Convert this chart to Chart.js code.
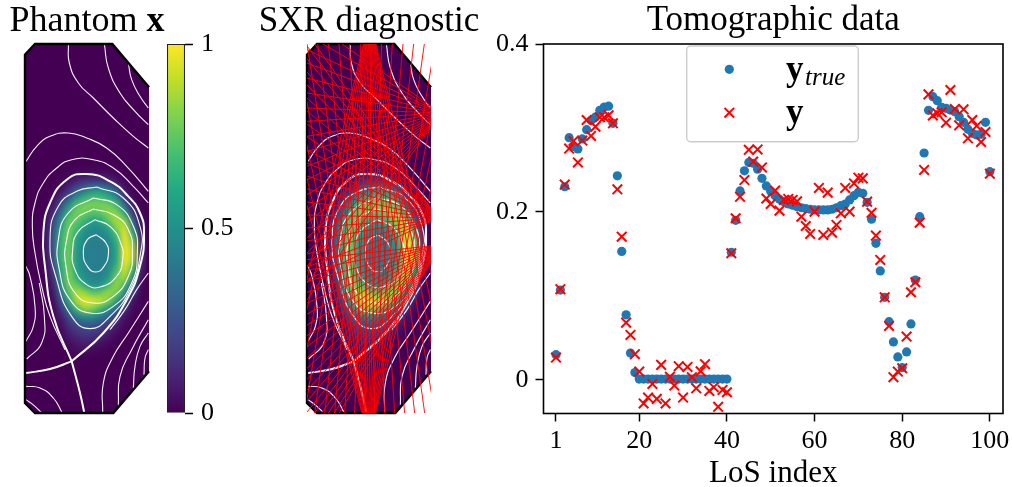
<!DOCTYPE html>
<html><head><meta charset="utf-8">
<script src="https://cdn.jsdelivr.net/npm/chart.js@4"></script>
<style>
html,body{margin:0;padding:0;background:#fff;width:1012px;height:487px;overflow:hidden}
canvas{position:absolute}
</style></head><body>
<canvas id="phantom" style="left:0;top:0" width="174" height="487"></canvas>
<canvas id="cbar" style="left:160px;top:30px" width="85" height="397"></canvas>
<canvas id="sxr" style="left:255px;top:0" width="228" height="487"></canvas>
<canvas id="tomo" style="left:490px;top:0" width="522" height="487"></canvas>
<script>
/* ---------- Tomographic data ---------- */
const losIndex=[1,2,3,4,5,6,7,8,9,10,11,12,13,14,15,16,17,18,19,20,21,22,23,24,25,26,27,28,29,30,31,32,33,34,35,36,37,38,39,40,41,42,43,44,45,46,47,48,49,50,51,52,53,54,55,56,57,58,59,60,61,62,63,64,65,66,67,68,69,70,71,72,73,74,75,76,77,78,79,80,81,82,83,84,85,86,87,88,89,90,91,92,93,94,95,96,97,98,99,100];
const yTrue=[0.03,0.107,0.23,0.2885,0.278,0.275,0.287,0.298,0.309,0.313,0.321,0.325,0.326,0.3055,0.243,0.153,0.0775,0.032,0.0087,0.001,0.001,0.001,0.001,0.001,0.001,0.001,0.001,0.001,0.001,0.001,0.001,0.001,0.001,0.001,0.001,0.001,0.001,0.001,0.001,0.001,0.152,0.19,0.225,0.249,0.259,0.258,0.251,0.24,0.231,0.2246,0.2194,0.215,0.2123,0.2095,0.208,0.2063,0.205,0.204,0.2032,0.2024,0.2024,0.2024,0.2024,0.2032,0.205,0.2075,0.2095,0.2143,0.2194,0.2234,0.2222,0.2115,0.1913,0.1627,0.1298,0.0984,0.0694,0.0452,0.0274,0.0147,0.0333,0.0667,0.119,0.1944,0.2702,0.321,0.3373,0.3325,0.3246,0.3234,0.3214,0.3194,0.3135,0.3067,0.2984,0.2936,0.2917,0.2925,0.3067,0.248];
const yNoisy=[0.0266,0.108,0.2326,0.2755,0.2845,0.259,0.285,0.3095,0.2905,0.3016,0.3127,0.3127,0.315,0.3055,0.227,0.1706,0.0682,0.0536,0.0306,0.0099,-0.028,-0.021,-0.0048,-0.0226,0.0179,-0.028,0.0036,-0.0067,0.0163,-0.021,0.0155,0.0032,-0.01,0.0103,0.0187,-0.0131,-0.0087,-0.032,-0.0119,-0.0147,0.1508,0.1925,0.218,0.238,0.274,0.26,0.2745,0.253,0.216,0.2095,0.2254,0.2016,0.2143,0.2155,0.2143,0.2127,0.1944,0.1833,0.1738,0.2004,0.2286,0.1726,0.223,0.1754,0.1845,0.1984,0.2286,0.2004,0.234,0.2408,0.24,0.2123,0.199,0.1718,0.1429,0.0984,0.0643,0.0032,0.0099,0.0139,0.0516,0.1044,0.1163,0.1873,0.25,0.34,0.315,0.3175,0.3187,0.3063,0.3452,0.3226,0.3032,0.3222,0.2877,0.3095,0.3024,0.2833,0.2952,0.2456];
const xTickValues=[1,20,40,60,80,100];
const yTickValues=[0,0.2,0.4];
const cbarTickValues=[0,0.5,1];
const seriesNames=["y_true","y"];

/* ---------- Emission map, read on a coarse grid (value 0..1) ---------- */
const heatX=[135,159,183,207,231,255,279,303,327,351,375,399,423];
const heatY=[520,544,568,592,616,640,664,688,712,736,760,784,808,832,856,880,904,928,952,976,1000,1024,1048];
const heatRows=[
[0,0,0,.01,.02,.03,.03,.03,.02,.01,0,0,0],
[0,0,.01,.04,.1,.14,.15,.15,.12,.05,.01,0,0],
[0,0,.03,.12,.25,.35,.45,.47,.4,.24,.05,0,0],
[0,.02,.12,.26,.48,.62,.68,.68,.6,.45,.14,.01,0],
[0,.05,.24,.48,.72,.8,.8,.8,.78,.66,.34,.05,0],
[.01,.12,.36,.66,.8,.78,.72,.75,.84,.82,.58,.16,.01],
[.02,.18,.5,.76,.76,.65,.55,.6,.74,.9,.82,.34,.03],
[.03,.24,.58,.8,.67,.52,.47,.47,.58,.8,.96,.52,.06],
[.03,.26,.64,.8,.58,.47,.44,.44,.48,.68,1,.7,.08],
[.03,.26,.66,.78,.55,.45,.42,.42,.45,.6,1,.84,.12],
[.03,.24,.66,.78,.52,.44,.42,.42,.44,.58,1,.88,.12],
[.02,.22,.66,.78,.52,.44,.42,.42,.44,.6,1,.84,.1],
[.01,.17,.6,.8,.55,.45,.43,.43,.47,.68,.96,.7,.08],
[0,.12,.55,.82,.6,.48,.44,.44,.52,.78,.88,.5,.04],
[0,.08,.48,.8,.76,.58,.48,.5,.68,.86,.68,.32,.02],
[0,.05,.36,.72,.9,.84,.72,.76,.86,.78,.46,.16,0],
[0,.02,.24,.58,.88,.98,.96,.92,.8,.55,.27,.05,0],
[0,0,.14,.4,.68,.84,.8,.66,.5,.33,.13,.02,0],
[0,0,.07,.23,.4,.48,.47,.39,.3,.16,.05,0,0],
[0,0,.03,.14,.22,.28,.27,.22,.15,.08,.02,0,0],
[0,0,.01,.09,.14,.17,.17,.13,.08,.03,0,0,0],
[0,0,0,.04,.08,.1,.09,.06,.03,0,0,0,0],
[0,0,0,.02,.04,.05,.03,.01,0,0,0,0,0]];
const viridisStops=["#440154","#482475","#414487","#355f8d","#2a788e","#21918c","#22a884","#44bf70","#7ad151","#bddf26","#fde725"];

/* ---------- Vessel and flux surfaces, [x,y] in the panel's own units ---------- */
const vesselFill=[[75,165],[105,133],[337,133],[447,263],[447,1115],[340,1240],[105,1240],[75,1210]];
const vesselEdge=[[447,263],[337,133],[105,133],[75,165],[75,1210],[105,1240],[340,1240],[447,1115]];
const fluxThin=[
[[205,133],[208,190],[235,250],[280,295],[340,355],[400,410],[445,445]],
[[313,133],[325,205],[360,280],[405,335],[445,375]],
[[385,190],[395,240],[420,290],[445,325]],
[[78,485],[110,440],[150,410],[205,400],[260,415],[320,445],[380,500],[445,575]],
[[445,610],[400,560],[340,505],[280,480],[215,480],[170,505],[130,550],[105,610],[97,680],[105,760],[125,860],[150,950],[195,1050]],
[[288,705],[318,730],[325,765],[312,800],[288,817],[262,800],[250,760],[262,720],[288,705]],
[[285,660],[330,680],[362,730],[368,780],[350,830],[300,862],[260,855],[225,810],[218,750],[235,695],[285,660]],
[[280,628],[340,645],[385,690],[397,760],[385,830],[340,890],[280,910],[225,880],[198,800],[200,720],[225,660],[280,628]],
[[280,595],[350,615],[400,680],[412,760],[395,850],[340,920],[270,940],[210,900],[178,810],[175,720],[205,640],[280,595]],
[[290,562],[370,595],[420,680],[420,770],[390,870],[330,950],[270,987],[215,950],[170,840],[150,720],[175,620],[230,575],[290,562]],
[[78,800],[90,830],[105,920],[100,980],[78,1025]],
[[118,850],[133,950],[125,1030],[80,1078]],
[[78,1160],[120,1165],[160,1195],[187,1240]],
[[78,1200],[105,1220],[125,1240]],
[[308,1240],[310,1150],[340,1070],[385,1000],[445,905]],
[[355,1215],[360,1130],[395,1050],[445,960]],
[[400,1165],[405,1100],[420,1040],[445,1000]],
[[432,1125],[435,1075],[445,1050]],
[[445,820],[410,870],[375,930],[330,990]]
];
const fluxThick=[
[[215,1085],[160,950],[135,800],[130,700],[150,610],[200,540],[260,523],[330,545],[385,590],[420,640],[432,700],[420,800],[380,900],[310,1000],[215,1085]],
[[215,1085],[150,1108],[78,1120]],
[[215,1085],[240,1180],[253,1240]]
];

/* ---------- Lines of sight: one camera position plus the far ends of its lines ---------- */
const camTop=[360,55];
const camTopEndsX=[75,105,135,165,195,225,255,285,315,345,375,405,435,465,495,525,555,585,615,645];
const camTopEndY=1240;
const camBottom=[358,1320];
const camBottomEndsX=[44,76,108,140,172,204,236,268,300,332,364,396,428,460,492,524,556,588,620,652];
const camBottomEndY=133;
const camRight1=[575,340];
const camRight1EndsY=[60,105,150,190,235,280,325,365,410,455,500,540,585,630,670,715,760,800,850,900];
const camRight2=[565,655];
const camRight2EndsY=[100,139,178,217,256,295,334,373,412,451,490,529,568,607,646,685,724,763,802,840];
const camRight3=[575,735];
const camRight3EndsY=[780,812,845,878,910,943,976,1008,1041,1074,1106,1139,1172,1204,1237,1270,1302,1335,1368,1400];
const camEndX=172;

/* ---------- helpers ---------- */
const SERIF='"Liberation Serif"';
Chart.defaults.font.family=SERIF;
Chart.defaults.color='#000';
const pts=a=>a.map(p=>({x:p[0],y:p[1]}));
const hex=h=>[1,3,5].map(i=>parseInt(h.substr(i,2),16));
function viridis(v){
  const t=Math.min(.9999,Math.max(0,v))*(viridisStops.length-1),i=Math.floor(t),f=t-i;
  const a=hex(viridisStops[i]),b=hex(viridisStops[i+1]);
  return `rgb(${a.map((c,k)=>Math.round(c+(b[k]-c)*f)).join(',')})`;
}
const heatPoints=[],heatColors=[];
heatRows.forEach((row,r)=>row.forEach((v,c)=>{ if(v>0){heatPoints.push({x:heatX[c],y:heatY[r]});heatColors.push(viridis(v));} }));

function vesselDatasets(dx){
  const sh=a=>pts(a.map(p=>[p[0]+dx,p[1]]));
  const line=(d,w,c)=>({data:d,showLine:true,pointRadius:0,borderColor:c,borderWidth:w,tension:.5,fill:false});
  return [
    {data:sh(vesselFill),showLine:true,pointRadius:0,borderWidth:0,borderColor:'#440154',backgroundColor:'#440154',fill:'shape',tension:0},
    {id:'heat',shift:dx,data:heatPoints.map(p=>({x:p.x+dx,y:p.y})),showLine:false,pointStyle:'rect',pointRadius:6,pointBorderWidth:0,pointBackgroundColor:heatColors,fill:false},
    ...fluxThin.map(c=>line(sh(c),1.1,'rgba(255,255,255,.95)')),
    ...fluxThick.map(c=>line(sh(c),2,'#fff')),
    {data:sh(vesselEdge),showLine:true,pointRadius:0,borderColor:'#000',borderWidth:2.4,fill:false,tension:0,clip:3}
  ];
}
/* smooth the coarse cells the way the reference image is interpolated */
const smoothHeat={id:'smoothHeat',
  afterDatasetDraw(ch,args){
    const ds=ch.data.datasets[args.index];
    if(ds.id!=='heat') return;
    const c=ch.ctx,x=ch.scales.x,y=ch.scales.y;
    c.save();
    const l=x.getPixelForValue(90+ds.shift),r=x.getPixelForValue(440+ds.shift),t=y.getPixelForValue(470),b=y.getPixelForValue(1100);
    c.beginPath();c.rect(l,t,r-l,b-t);c.clip();
    c.filter='blur(3px)';c.drawImage(c.canvas,0,0);
    c.restore();
  }};
const hidden={display:false};
const noOverhang=s=>{s.paddingLeft=0;s.paddingRight=0;s.paddingTop=0;s.paddingBottom=0;};
function panelOptions(xmin,xmax,padding,title){
  return {responsive:false,animation:false,devicePixelRatio:1,layout:{padding},
    plugins:{legend:hidden,tooltip:{enabled:false},title},
    scales:{x:{type:'linear',display:false,min:xmin,max:xmax},y:{type:'linear',display:false,min:133,max:1240,reverse:true}}};
}
/* title made of runs, centred over the plot and allowed to overhang it */
const runTitle=(id,runs,size)=>({id,afterDraw(ch){
  const c=ch.ctx;c.save();c.fillStyle='#000';c.textBaseline='alphabetic';
  const font=r=>(r.bold?'bold ':'')+size+'px '+SERIF;
  const widths=runs.map(r=>{c.font=font(r);return c.measureText(r.text).width;});
  let x=(ch.chartArea.left+ch.chartArea.right)/2-widths.reduce((a,b)=>a+b,0)/2;
  runs.forEach((r,i)=>{c.font=font(r);c.fillText(r.text,x,31);x+=widths[i];});
  c.restore();}});

/* ---------- panel 1: phantom ---------- */
new Chart('phantom',{type:'scatter',plugins:[smoothHeat,runTitle('phantomTitle',[{text:'Phantom '},{text:'x',bold:true}],36)],
  data:{datasets:vesselDatasets(0).reverse()},
  options:panelOptions(75,447,{left:25,right:25,top:44,bottom:74},{display:false})});

/* ---------- colour bar ---------- */
const cbarGradient={id:'cbarGradient',beforeDatasetsDraw(ch){
  const s=ch.scales.y,g=ch.ctx.createLinearGradient(0,s.getPixelForValue(0),0,s.getPixelForValue(1));
  viridisStops.forEach((c,i)=>g.addColorStop(i/(viridisStops.length-1),c));
  ch.getDatasetMeta(0).data[0].options.backgroundColor=g;
}};
new Chart('cbar',{type:'bar',plugins:[cbarGradient],
  data:{labels:['x'],datasets:[{data:[1],barPercentage:1,categoryPercentage:1,borderWidth:1.4,borderColor:'#222',borderSkipped:false,backgroundColor:viridisStops[5]}]},
  options:{responsive:false,animation:false,devicePixelRatio:1,layout:{padding:{left:7,top:14,bottom:14,right:0}},
    plugins:{legend:hidden,tooltip:{enabled:false}},
    scales:{x:{display:false},
      y:{position:'right',min:0,max:1,afterFit:s=>{s.width=60;noOverhang(s);},
        afterBuildTicks:s=>{s.ticks=cbarTickValues.map(value=>({value}));},
        grid:{drawOnChartArea:false,drawTicks:true,tickLength:8,tickColor:'#000',tickWidth:1.5},
        border:{display:false},
        ticks:{padding:8,font:{size:26},maxRotation:0,callback:v=>String(v)}}}}});

/* ---------- panel 2: SXR lines of sight ---------- */
const losLines=[];
camTopEndsX.forEach(x=>losLines.push([camTop,[x,camTopEndY]]));
camBottomEndsX.forEach(x=>losLines.push([camBottom,[x,camBottomEndY]]));
camRight1EndsY.forEach(y=>losLines.push([camRight1,[camEndX,y]]));
camRight2EndsY.forEach(y=>losLines.push([camRight2,[camEndX,y]]));
camRight3EndsY.forEach(y=>losLines.push([camRight3,[camEndX,y]]));
new Chart('sxr',{type:'scatter',plugins:[smoothHeat,runTitle('sxrTitle',[{text:'SXR diagnostic'}],35)],
  data:{datasets:[...vesselDatasets(97),
    ...losLines.map(l=>({data:pts(l),showLine:true,pointRadius:0,borderColor:'rgba(255,0,0,.9)',borderWidth:1,fill:false,tension:0,clip:0}))
  ].reverse()},
  options:panelOptions(172,544,{left:52,right:52,top:44,bottom:74},{display:false})});

/* ---------- panel 3: tomographic data ---------- */
const frameAndLegend={id:'frameAndLegend',afterDatasetsDraw(ch){
  const c=ch.ctx,a=ch.chartArea,ox=-490;
  c.save();
  c.strokeStyle='#000';c.lineWidth=1.6;c.strokeRect(a.left,a.top,a.right-a.left,a.bottom-a.top);
  // legend
  c.beginPath();c.roundRect(686.7+ox,46,171.6,95.7,4);
  c.fillStyle='rgba(255,255,255,.8)';c.fill();c.strokeStyle='#ccc';c.lineWidth=1.4;c.stroke();
  c.beginPath();c.arc(729.3+ox,69.3,4.6,0,7);c.fillStyle='#1f77b4';c.fill();
  c.strokeStyle='#f00';c.lineWidth=2;const mx=729.3+ox,my=112.7,h=4.8;
  c.beginPath();c.moveTo(mx-h,my-h);c.lineTo(mx+h,my+h);c.moveTo(mx-h,my+h);c.lineTo(mx+h,my-h);c.stroke();
  c.fillStyle='#000';c.textBaseline='alphabetic';
  c.font='bold 35px '+SERIF;c.fillText(seriesNames[1],786+ox,80);c.fillText(seriesNames[1],786+ox,123);
  c.font='italic 25px '+SERIF;c.fillText('true',805+ox,85);
  c.restore();}};
new Chart('tomo',{type:'scatter',plugins:[frameAndLegend],
  data:{datasets:[
    {label:seriesNames[0],data:losIndex.map((x,i)=>({x,y:yTrue[i]})),order:1,pointStyle:'circle',pointRadius:4.6,pointBorderWidth:0,pointBackgroundColor:'#1f77b4'},
    {label:seriesNames[1],data:losIndex.map((x,i)=>({x,y:yNoisy[i]})),order:0,pointStyle:'crossRot',pointRadius:6.8,pointBorderWidth:2,pointBorderColor:'#f00',pointBackgroundColor:'#f00'}
  ]},
  options:{responsive:false,animation:false,devicePixelRatio:1,layout:{padding:{left:0,right:9,top:0,bottom:0}},
    plugins:{legend:hidden,tooltip:{enabled:false},
      title:{display:true,text:'Tomographic data',font:{size:35,weight:'normal'},color:'#000',padding:{top:0,bottom:2},fullSize:false}},
    scales:{
      x:{type:'linear',min:-1.85,max:103,afterFit:s=>{s.height=73.5;noOverhang(s);},
        afterBuildTicks:s=>{s.ticks=xTickValues.map(value=>({value}));},
        grid:{drawOnChartArea:false,drawTicks:true,tickLength:8,tickColor:'#000',tickWidth:1.5},
        border:{display:false},
        ticks:{padding:4,font:{size:26},maxRotation:0,callback:v=>String(v)},
        title:{display:true,text:'LoS index',font:{size:31},color:'#000',padding:{top:0,bottom:-5.6}}},
      y:{type:'linear',min:-0.04,max:0.4,afterFit:s=>{s.width=53.5;noOverhang(s);},
        afterBuildTicks:s=>{s.ticks=yTickValues.map(value=>({value}));},
        grid:{drawOnChartArea:false,drawTicks:true,tickLength:8,tickColor:'#000',tickWidth:1.5},
        border:{display:false},
        ticks:{padding:7,font:{size:26},callback:v=>v===0?'0':v.toFixed(1)}}
    }}});
</script>
</body></html>
